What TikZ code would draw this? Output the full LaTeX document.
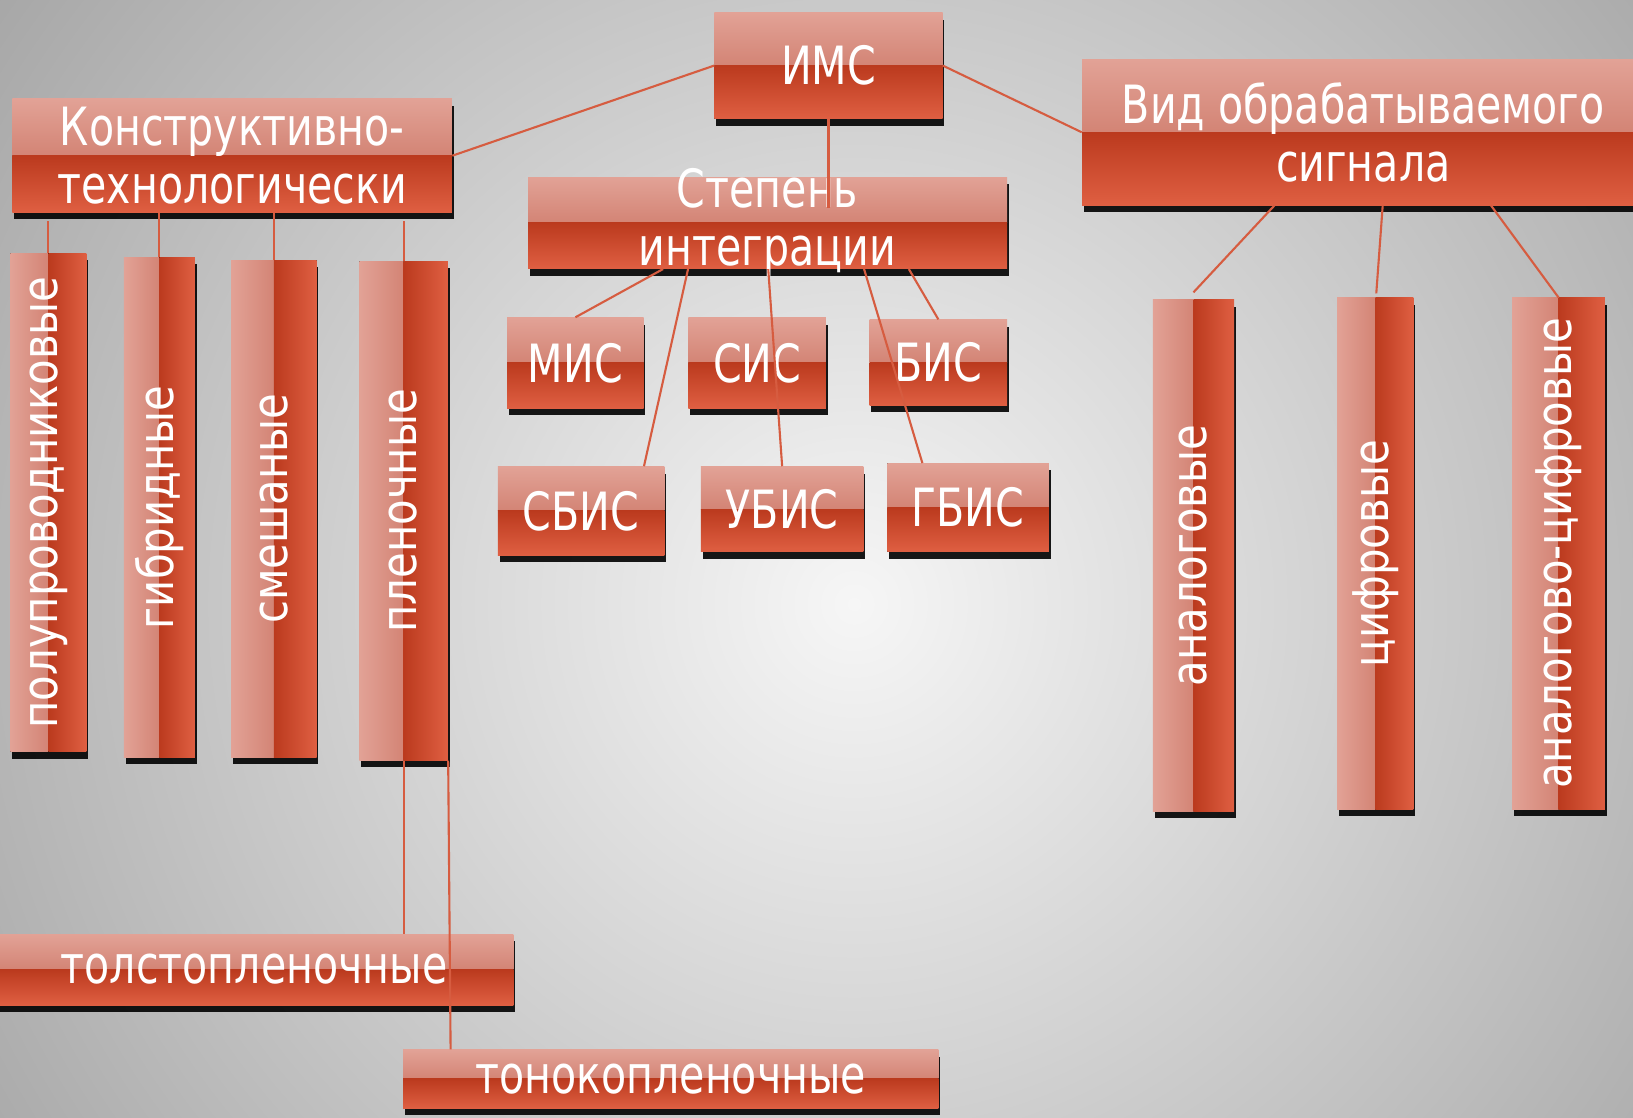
\documentclass[tikz,border=0pt]{standalone}
\usepackage{fontspec}
\usepackage{graphicx}
\usetikzlibrary{shadows, calc}
\newfontfamily\boxfont[FakeStretch=0.78]{DejaVu Sans}
\newfontfamily\barfont[FakeStretch=0.85]{DejaVu Sans}
\definecolor{boxtop}{RGB}{226,162,150}
\definecolor{boxmid}{RGB}{196,102,84}
\definecolor{boxdark}{RGB}{187,58,30}
\definecolor{boxbot}{RGB}{223,95,66}
\definecolor{linkred}{RGB}{214,92,64}
\definecolor{bglight}{RGB}{246,246,246}
\definecolor{bgdark}{RGB}{160,160,160}
\newcommand{\pxu}{0.02083cm}

\begin{document}
\begin{tikzpicture}[x=0.02083cm, y=-0.02083cm,
    boxsize/.style 2 args={minimum width=#1*\pxu, minimum height=#2*\pxu},
    boxtext/.style={inner sep=0pt, text=white, align=center,
      font=\boxfont\fontsize{30pt}{33pt}\selectfont},
    hbox/.style={boxtext,
      drop shadow={shadow xshift=1pt, shadow yshift=-4pt, opacity=0.9, fill=black},
      path picture={
        \fill[top color=boxtop, bottom color=boxmid] (path picture bounding box.north west) rectangle (path picture bounding box.east);
        \fill[top color=boxdark, bottom color=boxbot] (path picture bounding box.west) rectangle (path picture bounding box.south east);
      }},
    vbox/.style={inner sep=0pt, text=white,
      font=\barfont\fontsize{28pt}{30pt}\selectfont,
      drop shadow={shadow xshift=1pt, shadow yshift=-4pt, opacity=0.9, fill=black},
      path picture={
        \fill[left color=boxtop, right color=boxmid] (path picture bounding box.south west) rectangle (path picture bounding box.north);
        \fill[left color=boxdark, right color=boxbot] (path picture bounding box.south) rectangle (path picture bounding box.north east);
      }},
    link/.style={linkred, line width=1.2pt}]

  % background
  \useasboundingbox (0,0) rectangle (1568,1073);
  \shade[inner color=bglight, outer color=bgdark] (-280,-520) rectangle (1920,1680);

  % top level
  \node[hbox, boxsize={219}{102}] (ims) at (795.5,63) {ИМС};
  \node[hbox, boxsize={422}{109}] (constr) at (223,149.5) {Конструктивно-\\технологически};
  \node[hbox, boxsize={460}{88}, label={[boxtext]center:Степень\\интеграции}] (degree) at (737,214) {};
  \node[hbox, boxsize={540}{140}] (signal) at (1309,127) {Вид обрабатываемого\\сигнала};

  % degree of integration
  \node[hbox, boxsize={131}{87}] (mis) at (552.5,348.5) {МИС};
  \node[hbox, boxsize={132}{87}] (sis) at (727,348.5) {СИС};
  \node[hbox, boxsize={132}{82}] (bis) at (901,348) {БИС};
  \node[hbox, boxsize={160}{85}] (sbis) at (558,490.5) {СБИС};
  \node[hbox, boxsize={156}{82}] (ubis) at (751,489) {УБИС};
  \node[hbox, boxsize={155}{85}] (gbis) at (929.5,487.5) {ГБИС};

  % design and technology
  \node[vbox, boxsize={73}{479}] (semi) at (46.5,482.5) {\rotatebox{90}{полупроводниковые}};
  \node[vbox, boxsize={68}{480}] (hybrid) at (153,487) {\rotatebox{90}{гибридные}};
  \node[vbox, boxsize={82}{477}] (mixed) at (263,488.5) {\rotatebox{90}{смешаные}};
  \node[vbox, boxsize={85}{479}] (film) at (387.5,490.5) {\rotatebox{90}{пленочные}};
  \node[hbox, boxsize={498}{68}] (thick) at (244,931) {толстопленочные};
  \node[hbox, boxsize={514}{56}] (thin) at (644,1036) {тонокопленочные};

  % signal type
  \node[vbox, boxsize={78}{491}] (analog) at (1146,533.5) {\rotatebox{90}{аналоговые}};
  \node[vbox, boxsize={73}{491}] (digital) at (1320.5,531.5) {\rotatebox{90}{цифровые}};
  \node[vbox, boxsize={89}{491}] (mixsig) at (1496.5,531.5) {\rotatebox{90}{аналогово-цифровые}};

  % connectors
  \draw[link] (ims.west) -- (constr.east);
  \draw[link] (ims.east) -- (signal.west);
  \draw[link] (ims.south) -- ($(ims.south |- degree.center)+(0,-14)$);

  \draw[link] ($(constr.south -| semi.north)+(0,8)$) -- (semi.north);
  \draw[link] (constr.south -| hybrid.north) -- (hybrid.north);
  \draw[link] (constr.south -| mixed.north) -- (mixed.north);
  \draw[link] ($(constr.south -| film.north)+(0,8)$) -- (film.north);
  \draw[link] (film.south) -- (film.south |- thick.north);
  \draw[link] (film.south east) -- ($(thin.north west)+(46,0)$);

  \draw[link] ($(degree.south west)+(130,0)$) -- (mis.north);
  \draw[link] ($(degree.south west)+(154,0)$) -- ($(sbis.north east)+(-20,0)$);
  \draw[link] ($(degree.south west)+(231,0)$) -- (ubis.north);
  \draw[link] ($(degree.south west)+(323,0)$) -- ($(gbis.north west)+(34,0)$);
  \draw[link] ($(degree.south west)+(366,0)$) -- (bis.north);

  \draw[link] ($(signal.south west)+(185,0)$) -- ($(analog.north)+(0,-7)$);
  \draw[link] ($(signal.south west)+(289,0)$) -- ($(digital.north)+(1,-4)$);
  \draw[link] ($(signal.south west)+(393,0)$) -- (mixsig.north);
\end{tikzpicture}
\end{document}
